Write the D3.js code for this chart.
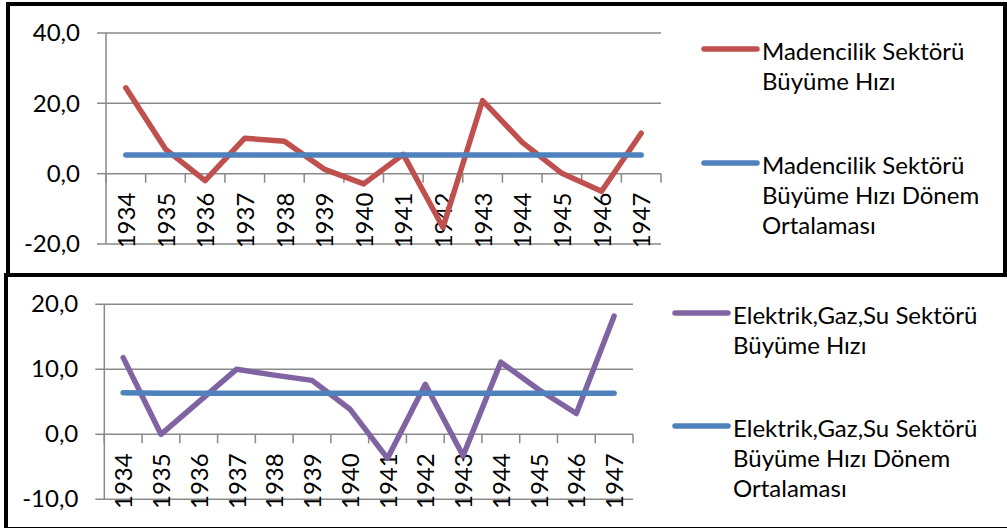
<!DOCTYPE html>
<html>
<head>
<meta charset="utf-8">
<script src="https://cdn.jsdelivr.net/npm/d3@7"></script>
<style>
  body { margin: 0; background: #fff; }
  svg { display: block; font-family: Lato, "Open Sans", sans-serif; }
</style>
</head>
<body>
<div id="chart"></div>
<script>
// Categories
const years = ["1934", "1935", "1936", "1937", "1938", "1939", "1940",
               "1941", "1942", "1943", "1944", "1945", "1946", "1947"];

// Madencilik (mining) growth rate and its period average
const madencilik = [24.4, 7.0, -2.0, 10.1, 9.2, 1.3, -2.9, 5.5, -15.3, 20.8, 8.9, 0.1, -5.0, 11.5];
const madencilikOrt = [5.3, 5.3, 5.3, 5.3, 5.3, 5.3, 5.3, 5.3, 5.3, 5.3, 5.3, 5.3, 5.3, 5.3];

// Elektrik, gaz, su growth rate and its period average
const elektrik = [11.8, 0.0, 5.0, 10.0, 9.1, 8.3, 3.9, -3.7, 7.7, -3.3, 11.1, 6.9, 3.2, 18.2];
const elektrikOrt = [6.4, 6.3, 6.3, 6.3, 6.3, 6.3, 6.3, 6.3, 6.3, 6.3, 6.3, 6.3, 6.3, 6.3];

// Value axis ticks
const topTicks = [-20, 0, 20, 40];
const bottomTicks = [-10, 0, 10, 20];

// Legend labels (one array of lines per entry)
const madencilikLegend = [["Madencilik Sektörü", "Büyüme Hızı"],
                          ["Madencilik Sektörü", "Büyüme Hızı Dönem", "Ortalaması"]];
const elektrikLegend = [["Elektrik,Gaz,Su Sektörü", "Büyüme Hızı"],
                        ["Elektrik,Gaz,Su Sektörü", "Büyüme Hızı Dönem", "Ortalaması"]];

const colors = {
    red: '#C0504D',
    blue: '#4F81BD',
    purple: '#8064A2',
    grid: '#898989'
};

const W = 1007, H = 528;
const FONT = "Lato, 'Open Sans', sans-serif";

// comma decimal, like the original
const fmt = d3.formatLocale({ decimal: ",", thousands: ".", grouping: [3], currency: ["", ""], minus: "-" }).format(".1f");

const svg = d3.select("#chart")
    .append("svg")
    .attr("width", W)
    .attr("height", H);

// Frames (bottom one first, top frame's lower edge sits on it)
svg.append("rect")
    .attr("x", 6).attr("y", 275).attr("width", 1010).attr("height", 254)
    .attr("fill", "#fff").attr("stroke", "#000").attr("stroke-width", 4);
svg.append("rect")
    .attr("x", 8).attr("y", 4).attr("width", 997).attr("height", 271)
    .attr("fill", "#fff").attr("stroke", "#000").attr("stroke-width", 4);

function drawPanel(p) {
    const g = svg.append("g");

    const x = d3.scaleBand().domain(years).range(p.xRange);
    const y = d3.scaleLinear().domain(d3.extent(p.ticks)).range(p.yRange);
    const bw = x.bandwidth();
    const left = p.xRange[0], right = p.xRange[1];
    const y0 = y(0);

    // horizontal gridlines (the 0 line is the category axis)
    g.selectAll(".grid")
        .data(p.ticks)
        .join("line")
        .attr("x1", left - 9)
        .attr("x2", d => d === 0 ? left : right)
        .attr("y1", d => y(d))
        .attr("y2", d => y(d))
        .attr("stroke", colors.grid)
        .attr("stroke-width", 1.5);

    // value axis labels
    const yAxisG = g.append("g")
        .attr("transform", `translate(${left},0)`)
        .call(d3.axisLeft(y).tickValues(p.ticks).tickSize(0).tickPadding(26).tickFormat(fmt));
    yAxisG.select(".domain").remove();
    yAxisG.selectAll("text")
        .attr("font-size", 24)
        .attr("font-family", FONT)
        .attr("fill", "#000");

    // value axis line
    g.append("line")
        .attr("x1", left).attr("x2", left)
        .attr("y1", y(p.ticks[0])).attr("y2", y(p.ticks[p.ticks.length - 1]))
        .attr("stroke", colors.grid)
        .attr("stroke-width", 1.5);

    // category axis line + tick marks at band edges
    g.append("line")
        .attr("x1", left).attr("x2", right)
        .attr("y1", y0).attr("y2", y0)
        .attr("stroke", colors.grid)
        .attr("stroke-width", 1.5);
    const edges = years.map(d => x(d)).concat([right]);
    g.selectAll(".xtick")
        .data(edges)
        .join("line")
        .attr("x1", d => d).attr("x2", d => d)
        .attr("y1", y0).attr("y2", y0 + 9)
        .attr("stroke", colors.grid)
        .attr("stroke-width", 1.5);

    // rotated year labels
    const xAxisG = g.append("g")
        .attr("transform", `translate(0,${y0})`)
        .call(d3.axisBottom(x).tickSize(0).tickPadding(0));
    xAxisG.select(".domain").remove();
    xAxisG.selectAll("text")
        .attr("transform", "rotate(-90)")
        .attr("text-anchor", "end")
        .attr("x", -19)
        .attr("y", 0)
        .attr("dy", "0.38em")
        .attr("font-size", 24)
        .attr("font-family", FONT)
        .attr("fill", "#000");

    // series
    const line = d3.line()
        .x(d => x(d.year) + bw / 2)
        .y(d => y(d.value));

    p.series.forEach(s => {
        const pts = years.map((yr, i) => ({ year: yr, value: s.values[i] }));
        g.append("path")
            .datum(pts)
            .attr("d", line)
            .attr("fill", "none")
            .attr("stroke", s.color)
            .attr("stroke-width", 5.5)
            .attr("stroke-linecap", "round")
            .attr("stroke-linejoin", "round");
    });

    // legend
    p.series.forEach((s, i) => {
        const ly = p.legendY[i];
        g.append("line")
            .attr("x1", p.legendX - 58).attr("x2", p.legendX - 5)
            .attr("y1", ly).attr("y2", ly)
            .attr("stroke", s.color)
            .attr("stroke-width", 5.5)
            .attr("stroke-linecap", "round");
        g.append("text")
            .attr("x", p.legendX)
            .attr("y", ly + 11)
            .attr("font-size", 24)
            .attr("font-family", FONT)
            .attr("fill", "#000")
            .selectAll("tspan")
            .data(s.label)
            .join("tspan")
            .attr("x", p.legendX)
            .attr("dy", (d, j) => j === 0 ? 0 : 30)
            .text(d => d);
    });
}

drawPanel({
    xRange: [106, 661],
    yRange: [244, 33],
    ticks: topTicks,
    series: [
        { values: madencilik, color: colors.red, label: madencilikLegend[0] },
        { values: madencilikOrt, color: colors.blue, label: madencilikLegend[1] }
    ],
    legendX: 762,
    legendY: [49, 163]
});

drawPanel({
    xRange: [104.3, 633],
    yRange: [499.3, 304.3],
    ticks: bottomTicks,
    series: [
        { values: elektrik, color: colors.purple, label: elektrikLegend[0] },
        { values: elektrikOrt, color: colors.blue, label: elektrikLegend[1] }
    ],
    legendX: 733,
    legendY: [313, 426]
});
</script>
</body>
</html>
